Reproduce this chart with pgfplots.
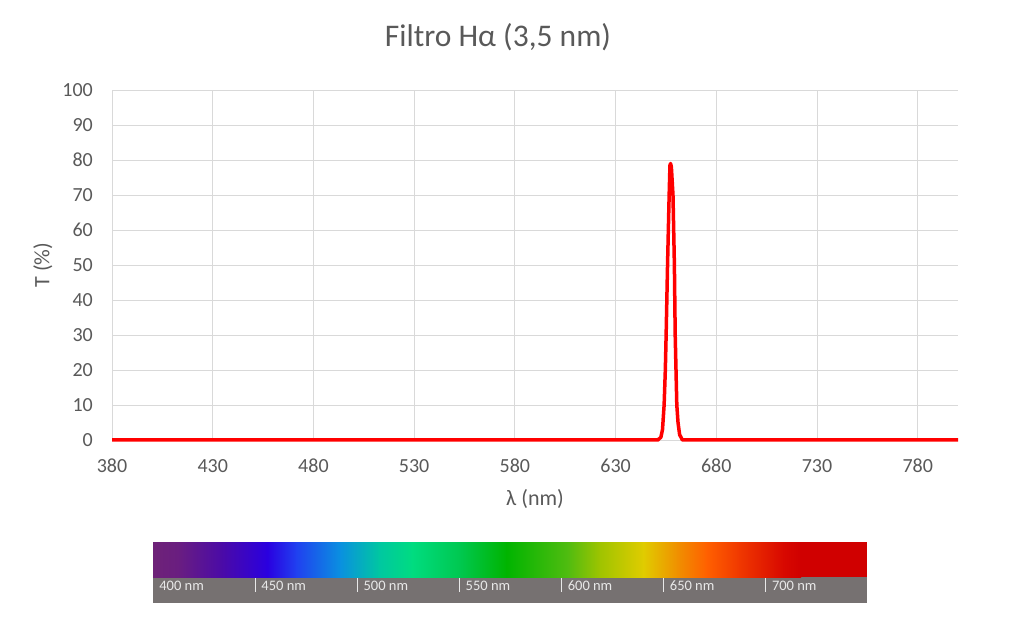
\documentclass[border=0pt]{standalone}
\usepackage{fontspec}
\setmainfont{Carlito}
\usepackage{pgfplots}
\pgfplotsset{compat=1.18}
\definecolor{gridc}{HTML}{D9D9D9}
\definecolor{textc}{HTML}{595959}
\definecolor{bargray}{HTML}{767171}
\definecolor{labc}{HTML}{E8E8E8}
\definecolor{s1}{HTML}{6E2278}
\definecolor{s2}{HTML}{6A1E80}
\definecolor{s3}{HTML}{4A0AA8}
\definecolor{s4}{HTML}{2A00E0}
\definecolor{s5}{HTML}{2040F0}
\definecolor{s6}{HTML}{0A90E0}
\definecolor{s7}{HTML}{00C8A0}
\definecolor{s8}{HTML}{00DC80}
\definecolor{s9}{HTML}{00C850}
\definecolor{s10}{HTML}{00B400}
\definecolor{s11}{HTML}{50BC10}
\definecolor{s12}{HTML}{A0C400}
\definecolor{s13}{HTML}{E0CC00}
\definecolor{s14}{HTML}{F09000}
\definecolor{s15}{HTML}{FF6000}
\definecolor{s16}{HTML}{F03800}
\definecolor{s17}{HTML}{D80800}
\definecolor{s18}{HTML}{D00000}
\begin{document}
\begin{tikzpicture}
\useasboundingbox (0,0) rectangle (1024bp,630bp);
\node[anchor=base, text=textc, font=\fontsize{31.5bp}{37bp}\selectfont] at (498bp,583bp) {Filtro Hα (3,5 nm)};
\begin{axis}[
  at={(112bp,190bp)}, anchor=south west, scale only axis,
  width=846bp, height=350bp,
  xmin=380, xmax=800, ymin=0, ymax=100,
  xtick={380,430,...,780}, ytick={0,10,...,100},
  grid=major, major grid style={draw=gridc, line width=0.9bp},
  axis line style={draw=none}, tick style={draw=none},
  /pgf/number format/assume math mode=true,
  tick label style={font=\fontsize{20bp}{23bp}\selectfont, text=textc},
  xticklabel style={anchor=north, inner sep=0pt, yshift=-19bp},
  yticklabel style={anchor=east, inner sep=0pt, xshift=-19bp},
  xlabel={λ (nm)}, ylabel={T (\%)},
  every axis x label/.style={at={(axis description cs:0.5,-0.1686)}, anchor=center, font=\fontsize{22bp}{26bp}\selectfont, text=textc},
  every axis y label/.style={at={(axis description cs:-0.0816,0.5)}, anchor=center, rotate=90, font=\fontsize{22bp}{26bp}\selectfont, text=textc},
  clip=false,
]
\addplot[color=red, line width=3.5bp, line join=round, line cap=butt] coordinates {
(380,0) (651,0) (652.5,0.8) (653.3,3) (654.1,10) (654.7,20) (655.1,30)
(655.8,50) (656.6,70) (657.0,78.5) (657.3,79) (657.7,78) (658.5,70)
(659.2,50) (659.6,30) (660.0,20) (660.4,10) (661.0,5) (661.8,1.5)
(663.2,0) (800,0)
};
\end{axis}
\begin{axis}[
  at={(153bp,27bp)}, anchor=south west, scale only axis,
  width=714bp, height=61bp,
  xmin=400, xmax=749.6, ymin=0, ymax=61,
  axis lines=none, clip=false,
]
\fill[bargray] (axis cs:400,0) rectangle (axis cs:749.6,26);
\shade[left color=s1, right color=s2] (axis cs:400,26) rectangle (axis cs:412.3,61);
\shade[left color=s2, right color=s3] (axis cs:412,26) rectangle (axis cs:434.3,61);
\shade[left color=s3, right color=s4] (axis cs:434,26) rectangle (axis cs:456.3,61);
\shade[left color=s4, right color=s5] (axis cs:456,26) rectangle (axis cs:470.3,61);
\shade[left color=s5, right color=s6] (axis cs:470,26) rectangle (axis cs:491.8,61);
\shade[left color=s6, right color=s7] (axis cs:491.5,26) rectangle (axis cs:511.3,61);
\shade[left color=s7, right color=s8] (axis cs:511,26) rectangle (axis cs:527.3,61);
\shade[left color=s8, right color=s9] (axis cs:527,26) rectangle (axis cs:550.3,61);
\shade[left color=s9, right color=s10] (axis cs:550,26) rectangle (axis cs:573.3,61);
\shade[left color=s10, right color=s11] (axis cs:573,26) rectangle (axis cs:603.3,61);
\shade[left color=s11, right color=s12] (axis cs:603,26) rectangle (axis cs:619.3,61);
\shade[left color=s12, right color=s13] (axis cs:619,26) rectangle (axis cs:640.3,61);
\shade[left color=s13, right color=s14] (axis cs:640,26) rectangle (axis cs:656.9,61);
\shade[left color=s14, right color=s15] (axis cs:656.6,26) rectangle (axis cs:671.3,61);
\shade[left color=s15, right color=s16] (axis cs:671,26) rectangle (axis cs:687.3,61);
\shade[left color=s16, right color=s17] (axis cs:687,26) rectangle (axis cs:708.8,61);
\shade[left color=s17, right color=s18] (axis cs:708.5,26) rectangle (axis cs:717.3,61);
\fill[s18] (axis cs:717,26) rectangle (axis cs:749.6,61);
\draw[labc, line width=0.8bp] (axis cs:450,11) -- (axis cs:450,25);
\draw[labc, line width=0.8bp] (axis cs:500,11) -- (axis cs:500,25);
\draw[labc, line width=0.8bp] (axis cs:550,11) -- (axis cs:550,25);
\draw[labc, line width=0.8bp] (axis cs:600,11) -- (axis cs:600,25);
\draw[labc, line width=0.8bp] (axis cs:650,11) -- (axis cs:650,25);
\draw[labc, line width=0.8bp] (axis cs:700,11) -- (axis cs:700,25);
\node[anchor=west, text=labc, inner sep=0pt, font=\fontsize{14.5bp}{16bp}\selectfont] at (axis cs:403,17.5) {400 nm};
\node[anchor=west, text=labc, inner sep=0pt, font=\fontsize{14.5bp}{16bp}\selectfont] at (axis cs:453,17.5) {450 nm};
\node[anchor=west, text=labc, inner sep=0pt, font=\fontsize{14.5bp}{16bp}\selectfont] at (axis cs:503,17.5) {500 nm};
\node[anchor=west, text=labc, inner sep=0pt, font=\fontsize{14.5bp}{16bp}\selectfont] at (axis cs:553,17.5) {550 nm};
\node[anchor=west, text=labc, inner sep=0pt, font=\fontsize{14.5bp}{16bp}\selectfont] at (axis cs:603,17.5) {600 nm};
\node[anchor=west, text=labc, inner sep=0pt, font=\fontsize{14.5bp}{16bp}\selectfont] at (axis cs:653,17.5) {650 nm};
\node[anchor=west, text=labc, inner sep=0pt, font=\fontsize{14.5bp}{16bp}\selectfont] at (axis cs:703,17.5) {700 nm};
\end{axis}
\end{tikzpicture}
\end{document}
